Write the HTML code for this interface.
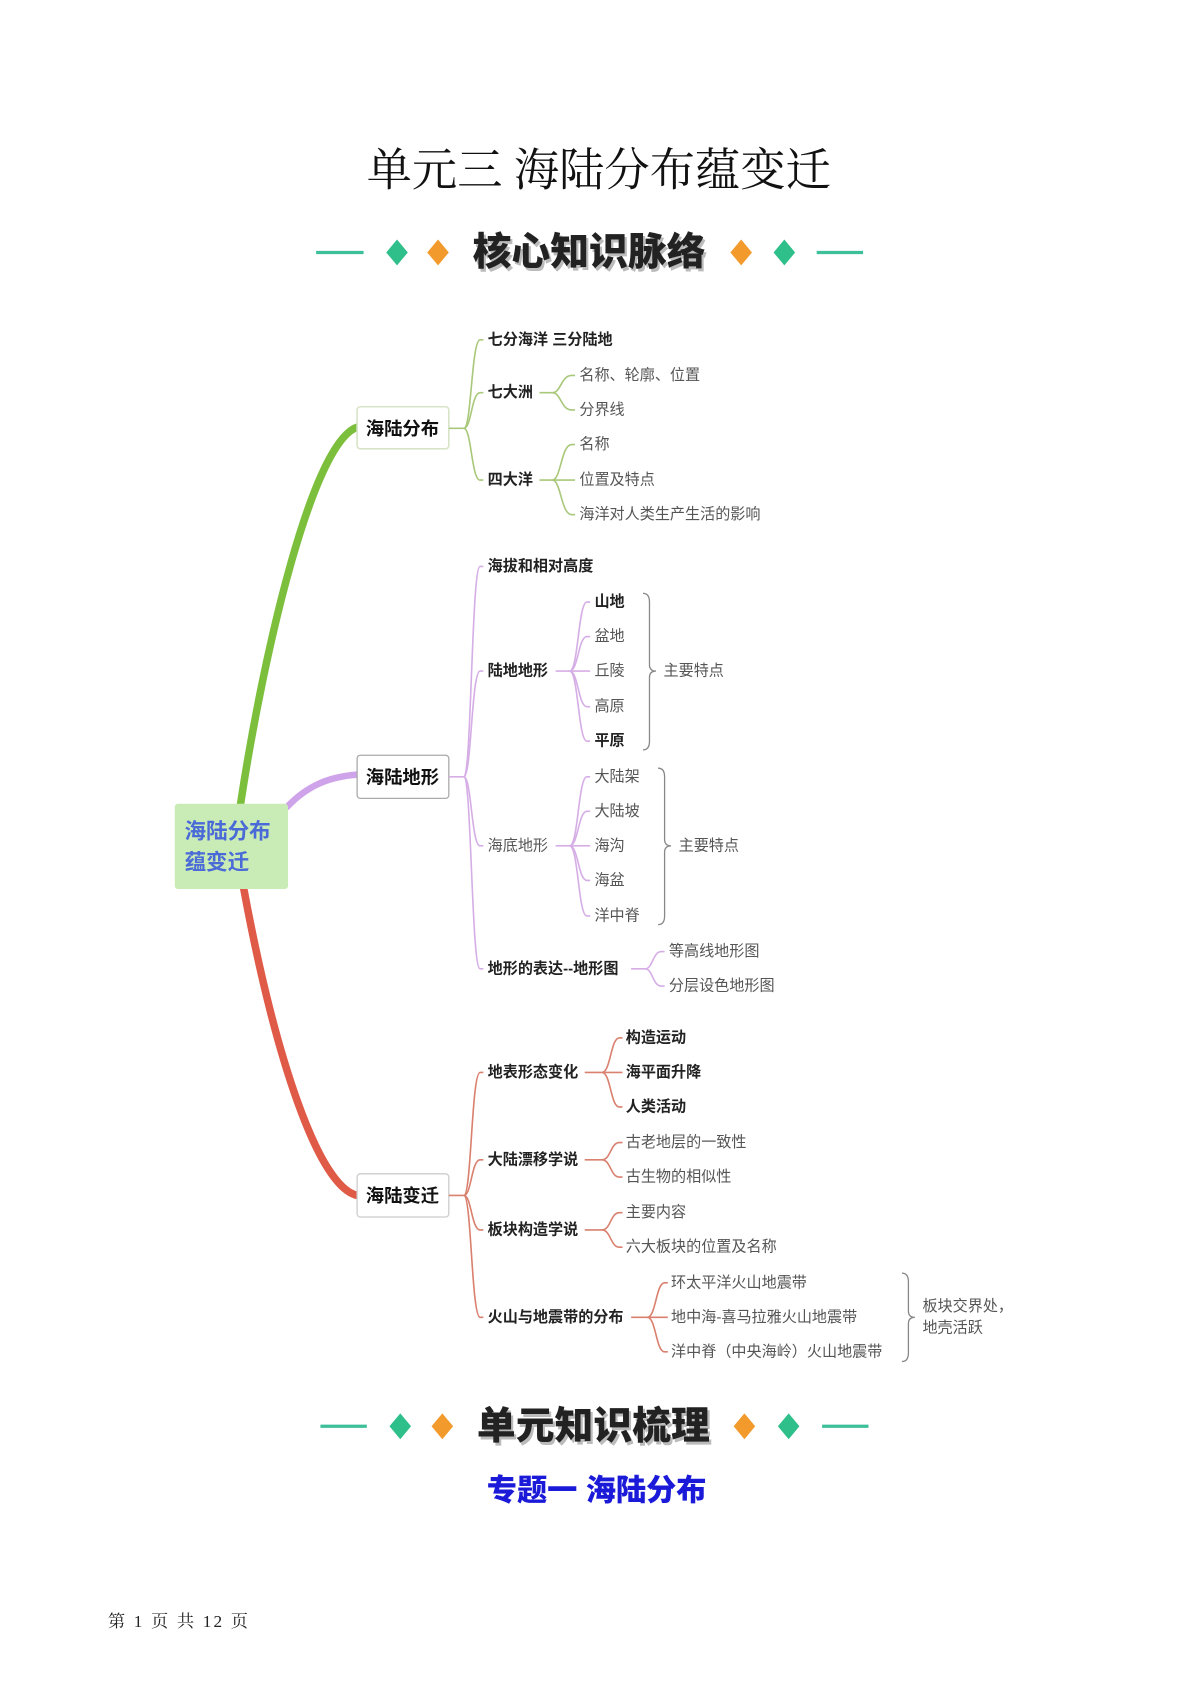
<!DOCTYPE html>
<html><head><meta charset="utf-8"><style>
html,body{margin:0;padding:0;background:#fff;}
svg{display:block;}
.t{font-family:"Liberation Sans","Noto Sans CJK SC",sans-serif;font-size:14px;font-weight:bold;fill:#222;dominant-baseline:central;}
.n{font-weight:normal;fill:#555;}
.b{font-family:"Liberation Sans","Noto Sans CJK SC",sans-serif;font-size:17px;font-weight:bold;fill:#111;dominant-baseline:central;text-anchor:middle;}
.ban{font-family:"Liberation Sans","Noto Sans CJK SC",sans-serif;font-size:36px;font-weight:900;dominant-baseline:central;text-anchor:middle;}
</style></head><body>
<svg width="1190" height="1682" viewBox="0 0 1103 1559" xmlns="http://www.w3.org/2000/svg">
<text x="555" y="158" text-anchor="middle" dominant-baseline="central" font-family="'Liberation Serif','Noto Serif CJK SC',serif" font-size="42" fill="#111">单元三  海陆分布蕴变迁</text>

<!-- banner 1 -->
<g>
<line x1="293" y1="234" x2="337" y2="234" stroke="#3dbf9a" stroke-width="3"/>
<line x1="757" y1="234" x2="800" y2="234" stroke="#3dbf9a" stroke-width="3"/>
<polygon points="368,222 378,234 368,246 358,234" fill="#2fbf8a"/>
<polygon points="406,222 416,234 406,246 396,234" fill="#f39a2c"/>
<polygon points="687,222 697,234 687,246 677,234" fill="#f39a2c"/>
<polygon points="727,222 737,234 727,246 717,234" fill="#2fbf8a"/>
<text class="ban" x="548" y="237" fill="#bbb">核心知识脉络</text>
<text class="ban" x="546" y="234" fill="#222">核心知识脉络</text>
</g>

<!-- thick branches -->
<path d="M223,745 C245,600 290,410 331,396" fill="none" stroke="#7cbf3c" stroke-width="7" stroke-linecap="round"/>
<path d="M266,748 C285,728 305,720 331,718" fill="none" stroke="#cfa3ea" stroke-width="6" stroke-linecap="round"/>
<path d="M226,824 C255,980 295,1100 331,1108" fill="none" stroke="#e05a48" stroke-width="7" stroke-linecap="round"/>

<!-- root -->
<rect x="162" y="745" width="105" height="79" rx="3" fill="#c9ebb6"/>
<text x="171" y="770" font-family="'Liberation Sans','Noto Sans CJK SC',sans-serif" font-size="20" font-weight="bold" fill="#4a6ad8" dominant-baseline="central">海陆分布</text>
<text x="171" y="799" font-family="'Liberation Sans','Noto Sans CJK SC',sans-serif" font-size="20" font-weight="bold" fill="#4a6ad8" dominant-baseline="central">蕴变迁</text>

<!-- branch boxes -->
<rect x="331" y="377" width="85" height="39" rx="3" fill="#fff" stroke="#d8e4c8" stroke-width="1.5"/>
<text class="b" x="373" y="397">海陆分布</text>
<rect x="331" y="700" width="85" height="40" rx="3" fill="#fff" stroke="#aaa" stroke-width="1.2"/>
<text class="b" x="373" y="720">海陆地形</text>
<rect x="331" y="1088" width="85" height="40" rx="3" fill="#fff" stroke="#ccc" stroke-width="1.2"/>
<text class="b" x="373" y="1108">海陆变迁</text>

<!-- green connectors -->
<g fill="none" stroke="#a9c87a" stroke-width="1.5">
<path d="M416,397 H430 C437,397 437,315 445,315 H448"/>
<path d="M430,397 C437,397 437,364 445,364 H448"/>
<path d="M430,397 C437,397 437,445 445,445 H448"/>
<path d="M500,364 H512 C520,364 520,348 530,348 H533"/>
<path d="M512,364 C520,364 520,380 530,380 H533"/>
<path d="M500,445 H512 C520,445 520,412 530,412 H533"/>
<path d="M512,445 H533"/>
<path d="M512,445 C520,445 520,477 530,477 H533"/>
</g>
<text class="t" x="452" y="315">七分海洋 三分陆地</text>
<text class="t" x="452" y="364">七大洲</text>
<text class="t" x="452" y="445">四大洋</text>
<text class="t n" x="537" y="348">名称、轮廓、位置</text>
<text class="t n" x="537" y="380">分界线</text>
<text class="t n" x="537" y="412">名称</text>
<text class="t n" x="537" y="445">位置及特点</text>
<text class="t n" x="537" y="477" fill="#666">海洋对人类生产生活的影响</text>

<!-- purple connectors -->
<g fill="none" stroke="#d6aee6" stroke-width="1.5">
<path d="M416,720 H430 C437,720 437,525 445,525 H448"/>
<path d="M430,720 C437,720 437,622 445,622 H448"/>
<path d="M430,720 C437,720 437,784 445,784 H448"/>
<path d="M430,720 C437,720 437,898 445,898 H448"/>
<path d="M515,622 H528 C536,622 536,558 544,558 H547"/>
<path d="M528,622 C536,622 536,590 544,590 H547"/>
<path d="M528,622 H547"/>
<path d="M528,622 C536,622 536,655 544,655 H547"/>
<path d="M528,622 C536,622 536,687 544,687 H547"/>
<path d="M515,784 H528 C536,784 536,720 544,720 H547"/>
<path d="M528,784 C536,784 536,752 544,752 H547"/>
<path d="M528,784 H547"/>
<path d="M528,784 C536,784 536,816 544,816 H547"/>
<path d="M528,784 C536,784 536,849 544,849 H547"/>
<path d="M585,898 H598 C605,898 605,882 613,882 H616"/>
<path d="M598,898 C605,898 605,914 613,914 H616"/>
</g>
<g fill="none" stroke="#888" stroke-width="1.2">
<path d="M596,550 Q602,550 602,558 V616 Q602,622 608,622 Q602,622 602,628 V687 Q602,695 596,695"/>
<path d="M610,712 Q616,712 616,720 V778 Q616,784 622,784 Q616,784 616,790 V849 Q616,857 610,857"/>
<path d="M836,1180 Q842,1180 842,1188 V1215 Q842,1221 848,1221 Q842,1221 842,1227 V1254 Q842,1262 836,1262"/>
</g>
<text class="t" x="452" y="525">海拔和相对高度</text>
<text class="t" x="452" y="622">陆地地形</text>
<text class="t n" x="452" y="784">海底地形</text>
<text class="t" x="452" y="898">地形的表达--地形图</text>
<text class="t" x="551" y="558">山地</text>
<text class="t n" x="551" y="590">盆地</text>
<text class="t n" x="551" y="622">丘陵</text>
<text class="t n" x="551" y="655">高原</text>
<text class="t" x="551" y="687">平原</text>
<text class="t n" x="615" y="622">主要特点</text>
<text class="t n" x="551" y="720">大陆架</text>
<text class="t n" x="551" y="752">大陆坡</text>
<text class="t n" x="551" y="784">海沟</text>
<text class="t n" x="551" y="816">海盆</text>
<text class="t n" x="551" y="849">洋中脊</text>
<text class="t n" x="629" y="784">主要特点</text>
<text class="t n" x="620" y="882">等高线地形图</text>
<text class="t n" x="620" y="914">分层设色地形图</text>

<!-- red connectors -->
<g fill="none" stroke="#d9806e" stroke-width="1.5">
<path d="M416,1108 H430 C437,1108 437,994 445,994 H448"/>
<path d="M430,1108 C437,1108 437,1075 445,1075 H448"/>
<path d="M430,1108 C437,1108 437,1140 445,1140 H448"/>
<path d="M430,1108 C437,1108 437,1221 445,1221 H448"/>
<path d="M542,994 H558 C566,994 566,962 574,962 H577"/>
<path d="M558,994 H577"/>
<path d="M558,994 C566,994 566,1026 574,1026 H577"/>
<path d="M542,1075 H558 C566,1075 566,1059 574,1059 H577"/>
<path d="M558,1075 C566,1075 566,1091 574,1091 H577"/>
<path d="M542,1140 H558 C566,1140 566,1124 574,1124 H577"/>
<path d="M558,1140 C566,1140 566,1156 574,1156 H577"/>
<path d="M585,1221 H600 C608,1221 608,1189 616,1189 H619"/>
<path d="M600,1221 H619"/>
<path d="M600,1221 C608,1221 608,1253 616,1253 H619"/>
</g>
<text class="t" x="452" y="994">地表形态变化</text>
<text class="t" x="452" y="1075">大陆漂移学说</text>
<text class="t" x="452" y="1140">板块构造学说</text>
<text class="t" x="452" y="1221">火山与地震带的分布</text>
<text class="t" x="580" y="962">构造运动</text>
<text class="t" x="580" y="994">海平面升降</text>
<text class="t" x="580" y="1026">人类活动</text>
<text class="t n" x="580" y="1059">古老地层的一致性</text>
<text class="t n" x="580" y="1091">古生物的相似性</text>
<text class="t n" x="580" y="1124">主要内容</text>
<text class="t n" x="580" y="1156">六大板块的位置及名称</text>
<text class="t n" x="622" y="1189">环太平洋火山地震带</text>
<text class="t n" x="622" y="1221">地中海-喜马拉雅火山地震带</text>
<text class="t n" x="622" y="1253">洋中脊（中央海岭）火山地震带</text>
<text class="t n" x="855" y="1211">板块交界处，</text>
<text class="t n" x="855" y="1231">地壳活跃</text>

<!-- banner 2 -->
<g>
<line x1="297" y1="1322" x2="340" y2="1322" stroke="#3dbf9a" stroke-width="3"/>
<line x1="762" y1="1322" x2="805" y2="1322" stroke="#3dbf9a" stroke-width="3"/>
<polygon points="371,1310 381,1322 371,1334 361,1322" fill="#2fbf8a"/>
<polygon points="410,1310 420,1322 410,1334 400,1322" fill="#f39a2c"/>
<polygon points="690,1310 700,1322 690,1334 680,1322" fill="#f39a2c"/>
<polygon points="731,1310 741,1322 731,1334 721,1322" fill="#2fbf8a"/>
<text class="ban" x="552" y="1325" fill="#bbb">单元知识梳理</text>
<text class="ban" x="550" y="1322" fill="#222">单元知识梳理</text>
</g>
<text x="553" y="1382" text-anchor="middle" dominant-baseline="central" font-family="'Liberation Sans','Noto Sans CJK SC',sans-serif" font-size="28" font-weight="900" fill="#1a1ad8">专题一  海陆分布</text>

<text x="100" y="1503" dominant-baseline="central" font-family="'Liberation Serif','Noto Serif CJK SC',serif" font-size="16" fill="#222" letter-spacing="2">第 1 页 共 12 页</text>
</svg>
</body></html>
